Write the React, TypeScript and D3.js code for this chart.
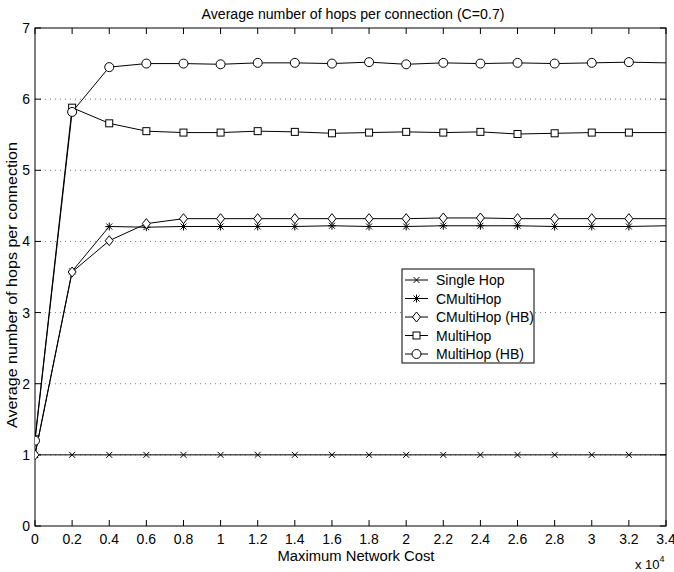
import React, { useEffect, useRef } from "react";
import * as d3 from "d3";

// x values in units of 10^4 (last point lies on the right edge)
const costs = [0, 0.2, 0.4, 0.6, 0.8, 1.0, 1.2, 1.4, 1.6, 1.8, 2.0, 2.2, 2.4, 2.6, 2.8, 3.0, 3.2, 3.4];

const singleHop = [1, 1, 1, 1, 1, 1, 1, 1, 1, 1, 1, 1, 1, 1, 1, 1, 1, 1];
const cMultiHop = [1.0, 3.58, 4.21, 4.2, 4.21, 4.21, 4.21, 4.21, 4.22, 4.21, 4.21, 4.22, 4.22, 4.22, 4.21, 4.21, 4.21, 4.22];
const cMultiHopHB = [1.0, 3.57, 4.01, 4.25, 4.32, 4.32, 4.32, 4.32, 4.32, 4.32, 4.32, 4.33, 4.33, 4.32, 4.32, 4.32, 4.32, 4.32];
const multiHop = [1.22, 5.88, 5.66, 5.55, 5.53, 5.53, 5.55, 5.54, 5.52, 5.53, 5.54, 5.53, 5.54, 5.51, 5.52, 5.53, 5.53, 5.53];
const multiHopHB = [1.2, 5.82, 6.45, 6.5, 6.5, 6.49, 6.51, 6.51, 6.5, 6.52, 6.49, 6.51, 6.5, 6.51, 6.5, 6.51, 6.52, 6.51];

const seriesNames = ["Single Hop", "CMultiHop", "CMultiHop (HB)", "MultiHop", "MultiHop (HB)"];
const seriesMarkers = ["x", "star", "diamond", "square", "circle"];

const xTicks = [0, 0.2, 0.4, 0.6, 0.8, 1, 1.2, 1.4, 1.6, 1.8, 2, 2.2, 2.4, 2.6, 2.8, 3, 3.2, 3.4];
const yTicks = [0, 1, 2, 3, 4, 5, 6, 7];

function drawMarker(g: any, kind: string, x: number, y: number) {
  const s = g.append("g").attr("transform", `translate(${x},${y})`)
    .attr("fill", "none").attr("stroke", "#000").attr("stroke-width", 1);
  if (kind === "x") {
    s.append("path").attr("d", "M-3,-3L3,3M-3,3L3,-3");
  } else if (kind === "star") {
    s.append("path").attr("d", "M-3,-3L3,3M-3,3L3,-3M0,-4L0,4M-4,0L4,0");
  } else if (kind === "diamond") {
    s.append("path").attr("d", "M0,-5L4,0L0,5L-4,0Z").attr("fill", "#fff");
  } else if (kind === "square") {
    s.append("rect").attr("x", -3.5).attr("y", -3.5).attr("width", 7).attr("height", 7).attr("fill", "#fff");
  } else {
    s.append("circle").attr("r", 4.5).attr("fill", "#fff");
  }
}

export default function App() {
  const ref = useRef<SVGSVGElement>(null);

  useEffect(() => {
    const svg = d3.select(ref.current);
    svg.selectAll("*").remove();

    const margin = { left: 35, right: 8, top: 28, bottom: 46 };
    const width = 674, height = 572;
    const font = "Liberation Sans, Arial, Helvetica, sans-serif";

    const x = d3.scaleLinear().domain([0, 3.4]).range([margin.left, width - margin.right]);
    const y = d3.scaleLinear().domain([0, 7]).range([height - margin.bottom, margin.top]);

    svg.append("rect").attr("width", width).attr("height", height).attr("fill", "#fff");

    svg.append("defs").append("clipPath").attr("id", "plotclip")
      .append("rect")
      .attr("x", margin.left).attr("y", margin.top)
      .attr("width", x(3.4) - x(0)).attr("height", y(0) - y(7));

    // dotted grid
    svg.append("g").selectAll("line")
      .data(yTicks.filter(t => t > 0 && t < 7))
      .join("line")
      .attr("x1", x(0)).attr("x2", x(3.4))
      .attr("y1", d => y(d)).attr("y2", d => y(d))
      .attr("stroke", "#777").attr("stroke-width", 1).attr("stroke-dasharray", "1,4");

    // frame
    svg.append("rect")
      .attr("x", x(0)).attr("y", y(7))
      .attr("width", x(3.4) - x(0)).attr("height", y(0) - y(7))
      .attr("fill", "none").attr("stroke", "#000");

    // ticks inward on all sides
    const tk = svg.append("g").attr("stroke", "#000");
    xTicks.forEach(t => {
      tk.append("line").attr("x1", x(t)).attr("x2", x(t)).attr("y1", y(0)).attr("y2", y(0) - 6);
      tk.append("line").attr("x1", x(t)).attr("x2", x(t)).attr("y1", y(7)).attr("y2", y(7) + 6);
    });
    yTicks.forEach(t => {
      tk.append("line").attr("x1", x(0)).attr("x2", x(0) + 6).attr("y1", y(t)).attr("y2", y(t));
      tk.append("line").attr("x1", x(3.4)).attr("x2", x(3.4) - 6).attr("y1", y(t)).attr("y2", y(t));
    });

    svg.append("g").selectAll("text").data(xTicks).join("text")
      .attr("x", d => x(d)).attr("y", y(0) + 18)
      .attr("text-anchor", "middle").attr("font-family", font).attr("font-size", 14)
      .text(d => String(d));

    svg.append("g").selectAll("text").data(yTicks).join("text")
      .attr("x", x(0) - 5).attr("y", d => y(d) + 5)
      .attr("text-anchor", "end").attr("font-family", font).attr("font-size", 14)
      .text(d => String(d));

    // series
    const all = [singleHop, cMultiHop, cMultiHopHB, multiHop, multiHopHB];
    const plot = svg.append("g").attr("clip-path", "url(#plotclip)");
    const line = d3.line<number>().x((_, i) => x(costs[i])).y(d => y(d));
    all.forEach(vals => {
      plot.append("path").attr("d", line(vals)).attr("fill", "none")
        .attr("stroke", "#000").attr("stroke-width", 1);
    });
    all.forEach((vals, k) => {
      vals.forEach((v, i) => {
        if (costs[i] < 3.3) drawMarker(plot, seriesMarkers[k], x(costs[i]), y(v));
      });
    });

    // legend
    const lg = svg.append("g").attr("transform", "translate(402,269)");
    lg.append("rect").attr("width", 132).attr("height", 94).attr("fill", "#fff").attr("stroke", "#000");
    seriesNames.forEach((name, k) => {
      const yy = 11 + k * 18.5;
      lg.append("line").attr("x1", 3).attr("x2", 26).attr("y1", yy).attr("y2", yy).attr("stroke", "#000");
      drawMarker(lg, seriesMarkers[k], 14.5, yy);
      lg.append("text").attr("x", 34).attr("y", yy + 5)
        .attr("font-family", font).attr("font-size", 14).text(name);
    });

    // labels
    svg.append("text").attr("x", 353).attr("y", 19).attr("text-anchor", "middle")
      .attr("font-family", font).attr("font-size", 14)
      .attr("textLength", 303).attr("lengthAdjust", "spacingAndGlyphs")
      .text("Average number of hops per connection (C=0.7)");
    svg.append("text").attr("x", 356).attr("y", 561).attr("text-anchor", "middle")
      .attr("font-family", font).attr("font-size", 14)
      .attr("textLength", 157).attr("lengthAdjust", "spacingAndGlyphs")
      .text("Maximum Network Cost");
    svg.append("text").attr("transform", "translate(17,285) rotate(-90)")
      .attr("text-anchor", "middle").attr("font-family", font).attr("font-size", 14)
      .attr("textLength", 286).attr("lengthAdjust", "spacingAndGlyphs")
      .text("Average number of hops per connection");
    const e = svg.append("text").attr("x", 635).attr("y", 569)
      .attr("font-family", font).attr("font-size", 13);
    e.append("tspan").text("x 10");
    e.append("tspan").attr("dy", -7).attr("font-size", 9).text("4");
  }, []);

  return <svg ref={ref} width={674} height={572} style={{ position: "absolute", left: 0, top: 0 }} />;
}
